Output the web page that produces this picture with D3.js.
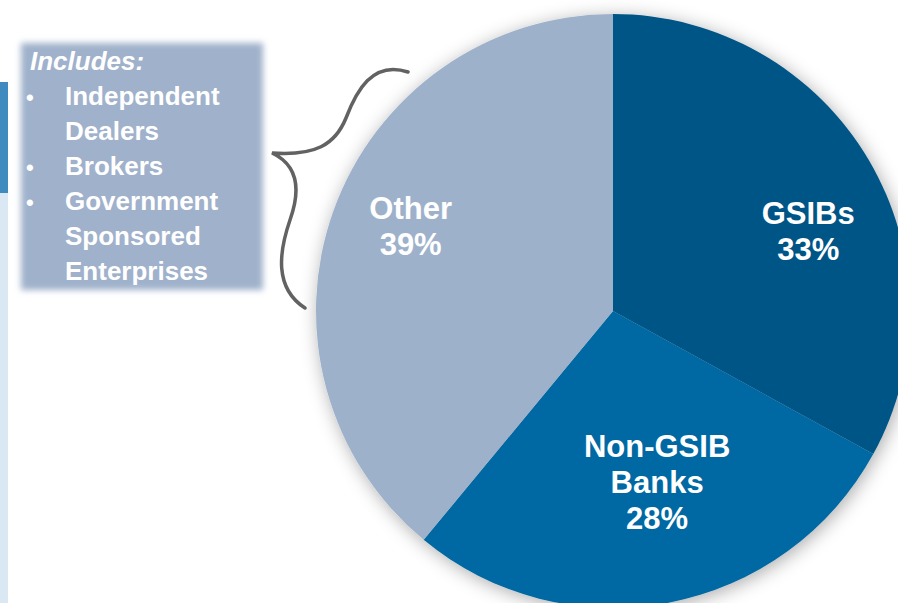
<!DOCTYPE html>
<html>
<head>
<meta charset="utf-8">
<script src="https://cdn.jsdelivr.net/npm/d3@7"></script>
<style>
  html, body { margin: 0; padding: 0; background: #ffffff; }
  svg { display: block; font-family: "Liberation Sans", Arial, sans-serif; }
</style>
</head>
<body>
<svg id="chart" width="898" height="603"></svg>
<script>
// ---- data ----
const categories = ["GSIBs", "Non-GSIB Banks", "Other"];
const values = [33, 28, 39];
const labelLines = [["GSIBs", "33%"], ["Non-GSIB", "Banks", "28%"], ["Other", "39%"]];
const colors = ["#005587", "#0067a2", "#9eb1ca"];
const includesTitle = "Includes:";
const includesItems = [["Independent", "Dealers"], ["Brokers"], ["Government", "Sponsored", "Enterprises"]];

// ---- layout ----
const svg = d3.select("#chart");
const W = 898, H = 603;
const cx = 613, cy = 311, r = 297;
const labelShift = [[11, 28.5], [4, -39], [-1, -12.5]];
const fs = 31, lh = 36;

const defs = svg.append("defs");
const sh = defs.append("filter").attr("id", "pieShadow")
  .attr("x", "-20%").attr("y", "-20%").attr("width", "140%").attr("height", "140%");
sh.append("feDropShadow").attr("dx", 2).attr("dy", 3).attr("stdDeviation", 9)
  .attr("flood-color", "#000").attr("flood-opacity", 0.33);
const bl = defs.append("filter").attr("id", "boxBlur")
  .attr("x", "-10%").attr("y", "-10%").attr("width", "120%").attr("height", "120%");
bl.append("feGaussianBlur").attr("stdDeviation", 3);

// left side bars
svg.append("rect").attr("x", 0).attr("y", 193).attr("width", 8).attr("height", H - 193).attr("fill", "#dae8f3");
svg.append("rect").attr("x", 0).attr("y", 82).attr("width", 8).attr("height", 111).attr("fill", "#3f8bc0");

// pie
const pie = d3.pie().sort(null).value(d => d)(values);
const arc = d3.arc().innerRadius(0).outerRadius(r);
const labelArc = d3.arc().innerRadius(214).outerRadius(214);

const g = svg.append("g").attr("transform", `translate(${cx},${cy})`);
const slices = g.append("g").attr("filter", "url(#pieShadow)");
slices.selectAll("path").data(pie).join("path")
  .attr("d", arc)
  .attr("fill", (d, i) => colors[i]);

const lbl = g.append("g");
pie.forEach((d, i) => {
  const c = labelArc.centroid(d);
  const ax = c[0] + labelShift[i][0];
  const ay = c[1] + labelShift[i][1];
  const lines = labelLines[i];
  const y0 = ay - (lines.length - 1) * lh / 2 + 11;
  const t = lbl.append("text")
    .attr("text-anchor", "middle")
    .attr("fill", "#ffffff")
    .attr("font-weight", "bold")
    .attr("font-size", fs);
  lines.forEach((s, k) => {
    t.append("tspan").attr("x", ax).attr("y", y0 + k * lh).text(s);
  });
});

// includes box
svg.append("rect").attr("x", 21).attr("y", 43).attr("width", 242).attr("height", 247)
  .attr("fill", "#9fb1cb").attr("filter", "url(#boxBlur)");

const boxText = svg.append("g").attr("fill", "#ffffff").attr("font-weight", "bold").attr("font-size", 26);
boxText.append("text").attr("x", 30).attr("y", 70).attr("font-style", "italic").attr("font-size", 26).text(includesTitle);
let row = 0;
includesItems.forEach(item => {
  boxText.append("text").attr("x", 26).attr("y", 105 + row * 35).attr("font-size", 22).text("•");
  item.forEach(s => {
    boxText.append("text").attr("x", 65).attr("y", 105 + row * 35).text(s);
    row++;
  });
});

// curly brace
svg.append("path")
  .attr("d", "M408,72 C372,60 356,92 346,118 C335,145 315,156 272,153 C300,166 300,192 290,220 C279,252 274,288 305,308")
  .attr("fill", "none").attr("stroke", "#626262").attr("stroke-width", 3.5).attr("stroke-linecap", "round");
</script>
</body>
</html>
